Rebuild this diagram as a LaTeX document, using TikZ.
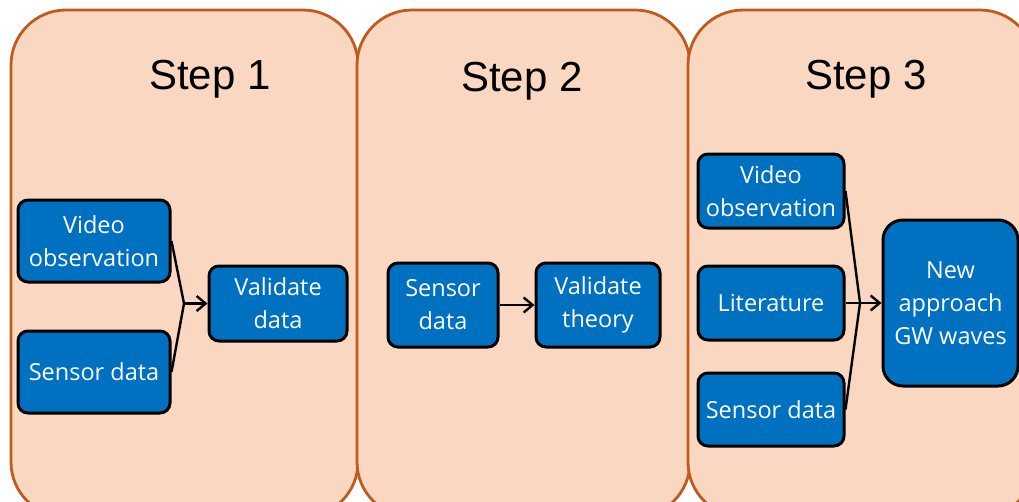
\documentclass[tikz,border=0pt]{standalone}
\usepackage{fontspec}
\setmainfont{Liberation Sans}
\newfontfamily\boxfont{Open Sans}
\usetikzlibrary{arrows.meta}
\definecolor{panelfill}{HTML}{FAD7C0}
\definecolor{panelline}{HTML}{C05A1E}
\definecolor{boxblue}{HTML}{0070C0}
\tikzset{
  panel/.style={draw=panelline, fill=panelfill, line width=2.8pt, rounded corners=55pt},
  steptitle/.style={font=\fontsize{42}{48}\selectfont, text=black, inner sep=0pt},
  bluebox/.style={draw=black, fill=boxblue, line width=3pt, rounded corners=10pt,
    text=white, align=center, inner sep=0pt,
    font=\boxfont\fontsize{23.5}{33}\selectfont},
  conn/.style={line width=2.4pt, draw=black},
  arr/.style={conn, -{Straight Barb[length=9pt,width=15pt,line width=2.4pt]}}
}
\begin{document}
\begin{tikzpicture}[x=1pt,y=-1pt]
\clip (0,0) rectangle (1019,501);
\fill[white] (0,0) rectangle (1019,501);
% panels
\draw[panel] (11,10) rectangle (358,517);
\draw[panel] (357,10) rectangle (690,517);
\draw[panel] (688,10) rectangle (1035,517);
% titles
\node[steptitle] (t1) at (210,79) {Step 1};
\node[steptitle] (t2) at (522,81) {Step 2};
\node[steptitle] (t3) at (866,79) {Step 3};
% step 1
\node[bluebox, minimum width=152pt, minimum height=82pt] (v1) at (94,241) {Video\\observation};
\node[bluebox, minimum width=152pt, minimum height=82pt] (s1) at (94,372) {Sensor data};
\node[bluebox, minimum width=138pt, minimum height=75pt] (val1) at (278,303.5) {Validate\\data};
\coordinate (j1) at (184,303.5);
\draw[conn] (v1.east) -- (j1) -- (s1.east);
\draw[arr] (j1) -- (val1.west);
% step 2
\node[bluebox, minimum width=110pt, minimum height=84pt] (s2) at (443,305) {Sensor\\data};
\node[bluebox, minimum width=124pt, minimum height=84pt] (val2) at (598,305) {Validate\\theory};
\draw[arr] (s2.east) -- (val2.west);
% step 3
\node[bluebox, minimum width=146pt, minimum height=74pt] (v3) at (771,191) {Video\\observation};
\node[bluebox, minimum width=146pt, minimum height=74pt] (lit3) at (771,303) {Literature};
\node[bluebox, minimum width=146pt, minimum height=73pt] (s3) at (771,409.5) {Sensor data};
\node[bluebox, rounded corners=20pt, minimum width=135pt, minimum height=166pt] (gw3) at (950.5,303) {New\\approach\\GW waves};
\coordinate (j3) at (860,303);
\draw[conn] (v3.east) -- (j3) -- (s3.east);
\draw[conn] (lit3.east) -- (j3);
\draw[arr] (j3) -- (gw3.west);
\end{tikzpicture}
\end{document}
